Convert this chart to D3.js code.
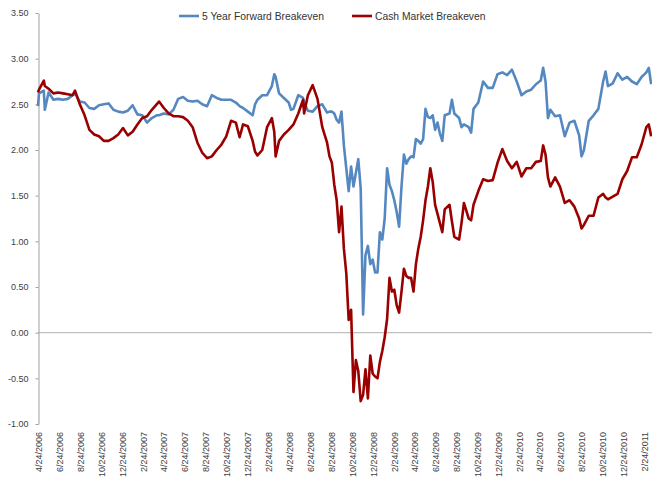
<!DOCTYPE html>
<html><head><meta charset="utf-8">
<script src="https://cdn.jsdelivr.net/npm/d3@7"></script>
<style>
body{margin:0;background:#fff;}
text{font-family:"Liberation Sans",Arial,sans-serif;}
</style>
</head><body>
<svg id="chart" width="652" height="481"></svg>
<script>
const seriesNames = ["5 Year Forward Breakeven", "Cash Market Breakeven"];
const dates = [
"2006-04-21","2006-04-24","2006-05-08","2006-05-11","2006-05-22","2006-06-05","2006-06-19","2006-07-03","2006-07-17","2006-07-31",
"2006-08-07","2006-08-21","2006-09-04","2006-09-18","2006-10-02","2006-10-16","2006-10-30","2006-11-13","2006-11-27","2006-12-11",
"2006-12-25","2007-01-08","2007-01-22","2007-02-05","2007-02-19","2007-03-05","2007-03-19","2007-04-02","2007-04-09","2007-04-23",
"2007-05-07","2007-05-21","2007-06-04","2007-06-18","2007-07-02","2007-07-16","2007-07-30","2007-08-13","2007-08-27","2007-09-10",
"2007-09-24","2007-10-08","2007-10-22","2007-11-05","2007-11-19","2007-11-30","2007-12-10","2007-12-24","2008-01-07","2008-01-14",
"2008-01-21","2008-02-04","2008-02-18","2008-03-03","2008-03-10","2008-03-14","2008-03-24","2008-04-07","2008-04-21","2008-04-28",
"2008-05-05","2008-05-19","2008-06-02","2008-06-05","2008-06-16","2008-06-30","2008-07-14","2008-07-28","2008-08-11","2008-08-18",
"2008-08-25","2008-09-01","2008-09-08","2008-09-15","2008-09-22","2008-09-29","2008-10-06","2008-10-13","2008-10-20","2008-10-27",
"2008-11-03","2008-11-10","2008-11-17","2008-11-24","2008-12-01","2008-12-08","2008-12-15","2008-12-22","2008-12-29","2009-01-05",
"2009-01-12","2009-01-19","2009-01-26","2009-02-02","2009-02-09","2009-02-16","2009-02-23","2009-03-02","2009-03-09","2009-03-16",
"2009-03-23","2009-03-30","2009-04-06","2009-04-13","2009-04-20","2009-04-27","2009-05-04","2009-05-11","2009-05-18","2009-05-25",
"2009-06-01","2009-06-08","2009-06-15","2009-06-22","2009-06-29","2009-07-06","2009-07-13","2009-07-20","2009-08-03","2009-08-10",
"2009-08-17","2009-08-31","2009-09-07","2009-09-14","2009-09-28","2009-10-05","2009-10-12","2009-10-26","2009-11-09","2009-11-23",
"2009-12-07","2009-12-21","2010-01-04","2010-01-18","2010-02-01","2010-02-15","2010-03-01","2010-03-15","2010-03-29","2010-04-12",
"2010-04-26","2010-05-03","2010-05-10","2010-05-17","2010-05-24","2010-06-07","2010-06-21","2010-07-05","2010-07-19","2010-08-02",
"2010-08-16","2010-08-23","2010-08-30","2010-09-13","2010-09-27","2010-10-11","2010-10-25","2010-11-01","2010-11-08","2010-11-22",
"2010-12-06","2010-12-20","2011-01-03","2011-01-17","2011-01-31","2011-02-14","2011-02-28","2011-03-07","2011-03-14"
];
const forwardBreakeven = [
2.48,2.62,2.65,2.44,2.63,2.55,2.56,2.55,2.56,2.60,
2.62,2.53,2.52,2.46,2.45,2.49,2.50,2.51,2.44,2.42,
2.41,2.43,2.49,2.39,2.38,2.30,2.35,2.38,2.38,2.40,
2.39,2.44,2.56,2.58,2.54,2.53,2.54,2.50,2.48,2.60,
2.57,2.55,2.55,2.55,2.52,2.48,2.46,2.42,2.38,2.50,
2.55,2.60,2.60,2.70,2.83,2.80,2.62,2.57,2.52,2.44,
2.45,2.60,2.57,2.52,2.43,2.42,2.48,2.50,2.41,2.42,
2.42,2.40,2.33,2.30,2.42,2.05,1.80,1.55,1.82,1.60,
1.75,1.90,1.58,0.20,0.85,0.95,0.75,0.80,0.66,0.66,
1.10,1.02,1.25,1.80,1.62,1.55,1.45,1.32,1.16,1.60,
1.95,1.85,1.90,1.93,1.92,2.12,2.10,2.07,2.12,2.45,
2.36,2.35,2.38,2.22,2.30,2.18,2.10,2.38,2.40,2.55,
2.40,2.35,2.25,2.28,2.25,2.19,2.45,2.52,2.75,2.68,
2.68,2.83,2.85,2.82,2.88,2.75,2.60,2.64,2.66,2.72,
2.76,2.90,2.75,2.35,2.44,2.37,2.38,2.15,2.30,2.32,
2.16,1.93,2.00,2.32,2.38,2.45,2.75,2.86,2.70,2.73,
2.84,2.77,2.80,2.75,2.72,2.80,2.85,2.90,2.72
];
const cashBreakeven = [
2.63,2.66,2.76,2.70,2.67,2.62,2.63,2.62,2.61,2.60,
2.65,2.50,2.38,2.22,2.17,2.15,2.10,2.10,2.13,2.17,
2.24,2.16,2.20,2.28,2.35,2.37,2.44,2.50,2.53,2.46,
2.40,2.37,2.37,2.36,2.32,2.25,2.08,1.97,1.91,1.93,
2.00,2.06,2.15,2.32,2.30,2.14,2.28,2.26,2.10,1.98,
1.94,2.00,2.25,2.35,2.20,1.93,2.10,2.17,2.22,2.25,
2.28,2.40,2.55,2.40,2.60,2.71,2.56,2.25,2.08,1.93,
1.86,1.62,1.45,1.10,1.38,0.92,0.65,0.14,0.25,-0.65,
-0.30,-0.42,-0.75,-0.68,-0.40,-0.72,-0.25,-0.45,-0.48,-0.50,
-0.32,-0.20,-0.05,0.15,0.60,0.45,0.47,0.30,0.22,0.45,
0.70,0.62,0.60,0.60,0.45,0.75,0.92,1.05,1.23,1.45,
1.60,1.80,1.65,1.40,1.30,1.20,1.10,1.35,1.40,1.22,
1.05,1.02,1.20,1.42,1.25,1.23,1.40,1.55,1.68,1.66,
1.67,1.86,2.01,1.88,1.80,1.87,1.71,1.80,1.80,1.87,
1.88,2.05,1.95,1.70,1.60,1.70,1.60,1.42,1.45,1.38,
1.25,1.14,1.18,1.28,1.28,1.48,1.52,1.48,1.46,1.49,
1.52,1.68,1.77,1.92,1.92,2.06,2.25,2.28,2.15
];
const yTicks = [3.5, 3.0, 2.5, 2.0, 1.5, 1.0, 0.5, 0.0, -0.5, -1.0];
const xTickLabels = [
"4/24/2006","6/24/2006","8/24/2006","10/24/2006","12/24/2006",
"2/24/2007","4/24/2007","6/24/2007","8/24/2007","10/24/2007","12/24/2007",
"2/24/2008","4/24/2008","6/24/2008","8/24/2008","10/24/2008","12/24/2008",
"2/24/2009","4/24/2009","6/24/2009","8/24/2009","10/24/2009","12/24/2009",
"2/24/2010","4/24/2010","6/24/2010","8/24/2010","10/24/2010","12/24/2010",
"2/24/2011"
];
const colors = ["#5588C0", "#9A0000"];

const parse = d3.timeParse("%Y-%m-%d");
const parseLabel = d3.timeParse("%m/%d/%Y");
const svg = d3.select("#chart");

const x = d3.scaleTime()
  .domain([parseLabel(xTickLabels[0]), parseLabel(xTickLabels[xTickLabels.length - 1])])
  .range([39, 645]);
const y = d3.scaleLinear().domain([-1, 3.5]).range([424, 13]);

const loc = d3.formatLocale({decimal: ".", thousands: ",", grouping: [3], currency: ["$", ""], minus: "-"});
const fmt = loc.format(".2f");

// zero line (category axis)
svg.append("line")
  .attr("x1", 38).attr("x2", 652)
  .attr("y1", y(0)).attr("y2", y(0))
  .attr("stroke", "#c0c0c0").attr("stroke-width", 1.2);

// y axis
const yAxis = svg.append("g").attr("transform", "translate(38.5,0)")
  .call(d3.axisLeft(y).tickValues(yTicks).tickFormat(fmt).tickSizeInner(3).tickSizeOuter(0).tickPadding(7));
yAxis.select(".domain").attr("stroke", "#a0a0a0");
yAxis.selectAll(".tick line").attr("stroke", "#a0a0a0");
yAxis.selectAll("text").attr("font-size", "9px").attr("fill", "#404040")
  .style("font-family", "'Liberation Sans', Arial, sans-serif");

// x labels
svg.append("g").selectAll("text").data(xTickLabels).join("text")
  .attr("transform", d => `translate(${x(parseLabel(d))},432) rotate(-90)`)
  .attr("text-anchor", "end")
  .attr("dy", "0.35em")
  .attr("font-size", "9px")
  .attr("fill", "#404040")
  .text(d => d);

// series
const seriesData = [forwardBreakeven, cashBreakeven].map(vals =>
  vals.map((v, i) => ({date: parse(dates[i]), v})));
const line = d3.line().x(d => x(d.date)).y(d => y(d.v));
svg.append("g").selectAll("path").data(seriesData).join("path")
  .attr("d", line)
  .attr("fill", "none")
  .attr("stroke", (d, i) => colors[i])
  .attr("stroke-width", 2.6)
  .attr("stroke-linejoin", "round");

// legend
const legendItems = [{x: 179, tx: 202}, {x: 352, tx: 375}];
const lg = svg.append("g");
legendItems.forEach((it, i) => {
  lg.append("line").attr("x1", it.x).attr("x2", it.x + 20).attr("y1", 16).attr("y2", 16)
    .attr("stroke", colors[i]).attr("stroke-width", 2.6);
  lg.append("text").attr("x", it.tx).attr("y", 16).attr("dy", "0.35em")
    .attr("font-size", "10.3px").attr("fill", "#333").text(seriesNames[i]);
});
</script>
</body></html>
